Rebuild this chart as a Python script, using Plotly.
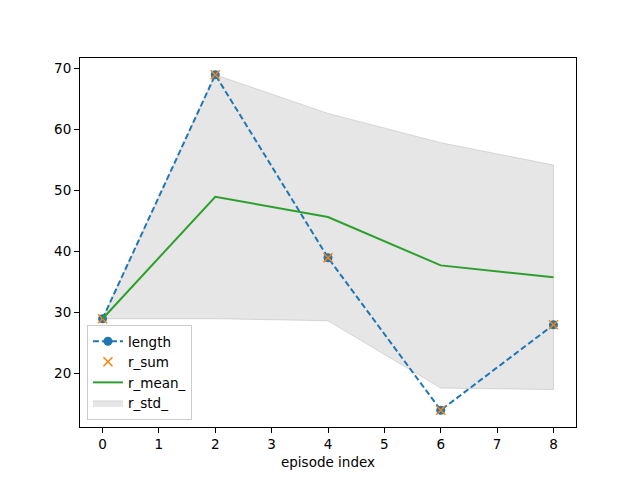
import plotly.graph_objects as go

episodes = [0, 2, 4, 6, 8]
length = [29, 69, 39, 14, 28]
r_sum = [29, 69, 39, 14, 28]
r_mean = [29, 49, 45.67, 37.75, 35.8]
r_std_upper = [29, 69, 62.67, 57.87, 54.21]
r_std_lower = [29, 29, 28.67, 17.63, 17.39]

fig = go.Figure()

fig.add_trace(go.Scatter(
    x=episodes + episodes[::-1],
    y=r_std_upper + r_std_lower[::-1],
    fill="toself", fillcolor="rgba(128,128,128,0.2)",
    line=dict(color="rgba(128,128,128,0.25)", width=1),
    mode="lines", name="r_std_", legendrank=4,
))
fig.add_trace(go.Scatter(
    x=episodes, y=length, mode="lines+markers", name="length",
    line=dict(color="#1f77b4", width=2, dash="6px,3px"),
    marker=dict(symbol="circle", size=9, color="#1f77b4"),
    legendrank=1,
))
fig.add_trace(go.Scatter(
    x=episodes, y=r_sum, mode="markers", name="r_sum",
    marker=dict(symbol="x-thin", size=9, color="#ff7f0e",
                line=dict(color="#ff7f0e", width=1.5)),
    legendrank=2,
))
fig.add_trace(go.Scatter(
    x=episodes, y=r_mean, mode="lines", name="r_mean_",
    line=dict(color="#2ca02c", width=2),
    legendrank=3,
))

axis_common = dict(
    showgrid=False, zeroline=False, showline=True, mirror=True,
    linecolor="black", linewidth=1, ticks="outside", ticklen=5,
    tickcolor="black", tickfont=dict(family="DejaVu Sans", size=13.5, color="black"),
)

fig.update_layout(
    width=640, height=480,
    margin=dict(l=72, r=72, t=50, b=61),
    paper_bgcolor="white", plot_bgcolor="white",
    font=dict(family="DejaVu Sans", size=13.5, color="black"),
    xaxis=dict(range=[-0.4, 8.4], dtick=1, tick0=0,
               title=dict(text="episode index", standoff=6,
                          font=dict(size=13.5)), **axis_common),
    yaxis=dict(range=[11.25, 71.75], dtick=10, tick0=0, **axis_common),
    legend=dict(x=0.014, y=0.019, xanchor="left", yanchor="bottom",
                bgcolor="rgba(255,255,255,0.8)", bordercolor="#cccccc",
                borderwidth=1, font=dict(size=13.5), itemwidth=30,
                tracegroupgap=1),
    showlegend=True,
)

fig.write_html("out.html")
